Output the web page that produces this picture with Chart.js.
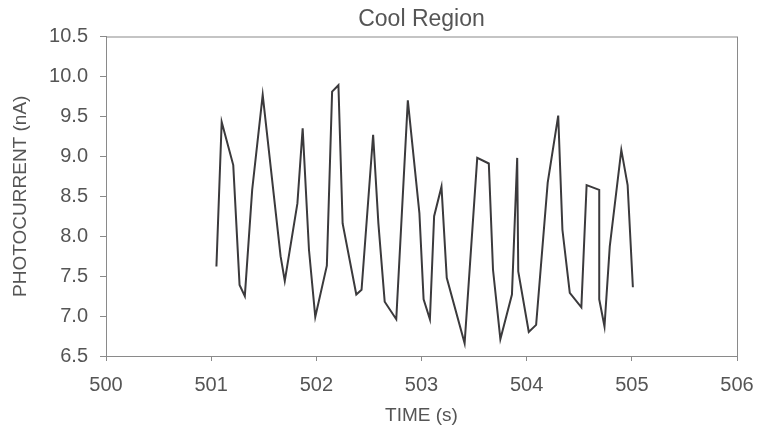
<!DOCTYPE html>
<html>
<head>
<meta charset="utf-8">
<script src="https://cdn.jsdelivr.net/npm/chart.js@4/dist/chart.umd.min.js"></script>
<style>
  html, body { margin: 0; padding: 0; background: #fff; }
  #wrap { width: 769px; height: 435px; }
</style>
</head>
<body>
<div id="wrap"><canvas id="chart" width="769" height="435"></canvas></div>
<script>
const title = "Cool Region";
const xTitle = "TIME (s)";
const yTitle = "PHOTOCURRENT (nA)";

// time (s) and photocurrent (nA)
const times = [
  501.05, 501.10, 501.21, 501.27, 501.32, 501.39, 501.49, 501.66, 501.70,
  501.82, 501.87, 501.93, 501.99, 502.10, 502.15, 502.21, 502.25, 502.38,
  502.43, 502.54, 502.59, 502.65, 502.76, 502.87, 502.98, 503.02, 503.08,
  503.12, 503.19, 503.24, 503.41, 503.53, 503.64, 503.68, 503.75, 503.86,
  503.91, 503.92, 504.02, 504.09, 504.20, 504.30, 504.34, 504.41, 504.52,
  504.57, 504.69, 504.69, 504.74, 504.79, 504.90, 504.96, 505.01
];
const current = [
  7.62, 9.43, 8.89, 7.39, 7.25, 8.58, 9.77, 7.75, 7.44,
  8.41, 9.35, 7.83, 6.99, 7.63, 9.81, 9.89, 8.16, 7.27,
  7.33, 9.27, 8.16, 7.18, 6.96, 9.70, 8.29, 7.21, 6.96,
  8.25, 8.62, 7.48, 6.66, 8.98, 8.91, 7.58, 6.71, 7.27,
  8.98, 7.56, 6.80, 6.89, 8.67, 9.51, 8.08, 7.29, 7.11,
  8.64, 8.58, 7.21, 6.87, 7.87, 9.08, 8.64, 7.36
];

const textColor = "#555555";
const axisColor = "#8a8a8a";
const fontFamily = "'Liberation Sans', Arial, sans-serif";

const frame = {
  id: "frame",
  afterDraw(chart) {
    const { ctx, chartArea: a } = chart;
    ctx.save();
    ctx.strokeStyle = axisColor;
    ctx.lineWidth = 1;
    ctx.strokeRect(a.left + 0.5, a.top + 0.5, a.right - a.left, a.bottom - a.top);
    ctx.restore();
  },
};

new Chart(document.getElementById("chart"), {
  type: "line",
  data: {
    datasets: [{
      data: times.map((t, i) => ({ x: t, y: current[i] })),
      borderColor: "#3b3a3c",
      borderWidth: 2,
      pointRadius: 0,
      tension: 0,
      fill: false,
    }],
  },
  options: {
    responsive: false,
    animation: false,
    layout: { padding: { left: 0, right: 32, top: 0, bottom: 0 } },
    plugins: {
      legend: { display: false },
      tooltip: { enabled: false },
      title: {
        display: true,
        text: title,
        fullSize: false,
        color: textColor,
        font: { family: fontFamily, size: 23, weight: "normal", lineHeight: 1.2 },
        padding: { top: 6, bottom: 2.9 },
      },
    },
    scales: {
      x: {
        type: "linear",
        min: 500,
        max: 506,
        afterFit: (s) => { s.height = 79; },
        ticks: {
          stepSize: 1,
          color: textColor,
          padding: 12,
          font: { family: fontFamily, size: 20 },
        },
        grid: { drawOnChartArea: false, drawTicks: true, tickLength: 5, color: axisColor },
        border: { display: true, color: axisColor },
        title: {
          display: true,
          text: xTitle,
          color: textColor,
          font: { family: fontFamily, size: 19 },
          padding: { top: 4, bottom: 8 },
        },
      },
      y: {
        min: 6.5,
        max: 10.5,
        afterFit: (s) => { s.width = 106; },
        ticks: {
          stepSize: 0.5,
          color: textColor,
          padding: 12,
          font: { family: fontFamily, size: 20 },
          callback: (v) => v.toFixed(1),
        },
        grid: { drawOnChartArea: false, drawTicks: true, tickLength: 6, color: axisColor },
        border: { display: true, color: axisColor },
        title: {
          display: true,
          text: yTitle,
          color: textColor,
          font: { family: fontFamily, size: 19 },
          padding: { top: 9, bottom: 0 },
        },
      },
    },
  },
  plugins: [frame],
});
</script>
</body>
</html>
